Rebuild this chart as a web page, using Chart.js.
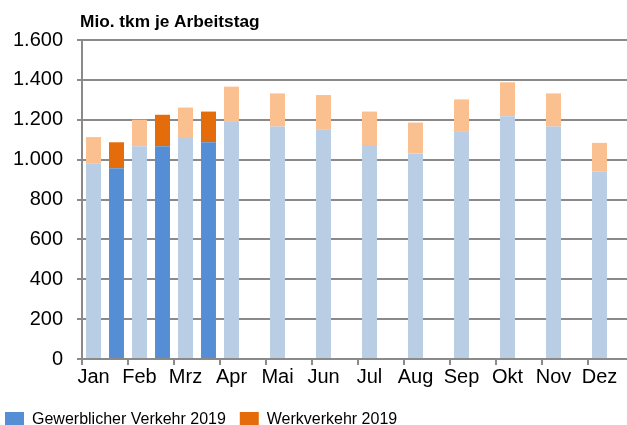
<!DOCTYPE html>
<html>
<head>
<meta charset="utf-8">
<script src="https://cdn.jsdelivr.net/npm/chart.js@4.4.1/dist/chart.umd.min.js"></script>
<style>
  html, body { margin: 0; padding: 0; overflow: hidden; background: #fff; }
  #wrap { width: 636px; height: 438px; position: relative; }
</style>
</head>
<body>
<div id="wrap"><canvas id="chart1"></canvas></div>
<script>
var months = ["Jan", "Feb", "Mrz", "Apr", "Mai", "Jun", "Jul", "Aug", "Sep", "Okt", "Nov", "Dez"];

// Mio. tkm je Arbeitstag
var gew2018 = [980, 1067, 1108, 1189, 1166, 1152, 1073, 1031, 1139, 1218, 1166, 940];
var werk2018 = [133, 133, 153, 177, 166, 172, 168, 155, 163, 170, 166, 144];
var gew2019 = [957, 1067, 1087, null, null, null, null, null, null, null, null, null];
var werk2019 = [130, 158, 154, null, null, null, null, null, null, null, null, null];

var yTicks = [0, 200, 400, 600, 800, 1000, 1200, 1400, 1600];
var titleText = "Mio. tkm je Arbeitstag";

var gridColor = "#8a8a8a";
var fontName = "'Liberation Sans', Arial, sans-serif";

function formatNum(v) {
  return String(v).replace(/\B(?=(\d{3})+(?!\d))/g, ".");
}

var titlePlugin = {
  id: "titlePlugin",
  afterDraw: function (chart) {
    var ctx = chart.ctx;
    ctx.save();
    ctx.font = "bold 17.3px " + fontName;
    ctx.fillStyle = "#000";
    ctx.textBaseline = "alphabetic";
    ctx.fillText(titleText, chart.chartArea.left - 2, 27);
    ctx.restore();
  }
};

var ctx = document.getElementById("chart1").getContext("2d");
var chart1 = new Chart(ctx, {
  type: "bar",
  data: {
    labels: months,
    datasets: [
      { label: "Gewerblicher Verkehr 2018", data: gew2018, stack: "2018", backgroundColor: "#b9cde5" },
      { label: "Werkverkehr 2018", data: werk2018, stack: "2018", backgroundColor: "#fac090" },
      { label: "Gewerblicher Verkehr 2019", data: gew2019, stack: "2019", backgroundColor: "#558ed5" },
      { label: "Werkverkehr 2019", data: werk2019, stack: "2019", backgroundColor: "#e46c0a" }
    ]
  },
  options: {
    responsive: true,
    maintainAspectRatio: false,
    animation: false,
    layout: { padding: { top: 40, left: 0, right: 2, bottom: 0 } },
    datasets: { bar: { categoryPercentage: 1, barPercentage: 0.65 } },
    plugins: {
      tooltip: { enabled: false },
      legend: {
        position: "bottom",
        align: "start",
        labels: {
          color: "#000",
          font: { family: fontName, size: 16 },
          boxWidth: 19,
          boxHeight: 16,
          padding: 5,
          generateLabels: function (chart) {
            var items = Chart.defaults.plugins.legend.labels.generateLabels(chart);
            items.forEach(function (it) { it.text = it.text + "\u00a0\u00a0"; });
            return items;
          },
          filter: function (item) { return item.text.indexOf("2019") >= 0; }
        }
      }
    },
    scales: {
      x: {
        stacked: true,
        afterFit: function (scale) { scale.height += 18; },
        grid: { offset: true, drawOnChartArea: false, color: gridColor, lineWidth: 2, tickLength: 6 },
        border: { color: gridColor, width: 2 },
        ticks: { color: "#000", font: { family: fontName, size: 20 }, labelOffset: -11.5, padding: 0, maxRotation: 0, autoSkip: false }
      },
      y: {
        stacked: true,
        min: 0,
        max: 1600,
        afterBuildTicks: function (scale) {
          scale.ticks = yTicks.map(function (v) { return { value: v }; });
        },
        afterFit: function (scale) { scale.width = 82; },
        grid: { color: gridColor, lineWidth: 2, tickLength: 5 },
        border: { color: gridColor, width: 2 },
        ticks: {
          color: "#000",
          font: { family: fontName, size: 20 },
          padding: 14,
          callback: function (v) { return formatNum(v); }
        }
      }
    }
  },
  plugins: [titlePlugin]
});
</script>
</body>
</html>
